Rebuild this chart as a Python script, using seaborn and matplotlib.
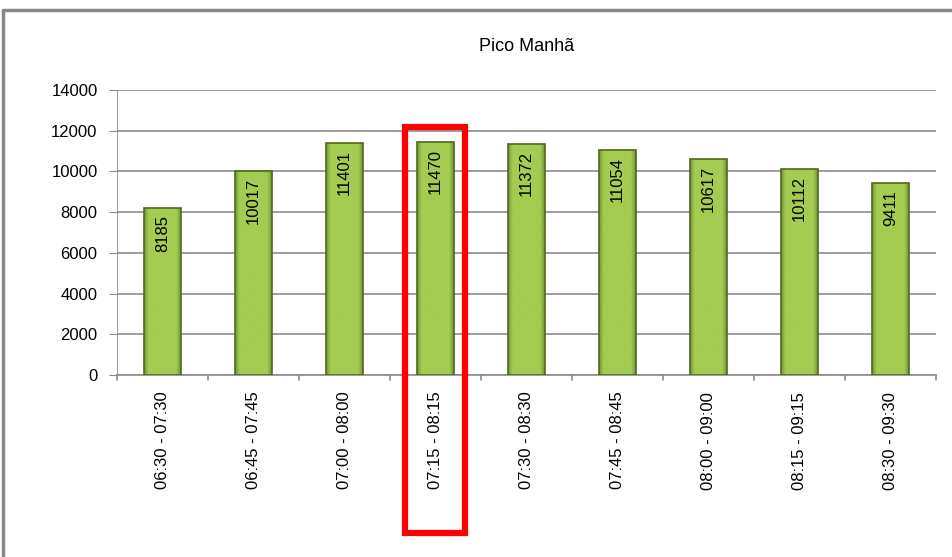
import matplotlib.pyplot as plt
import matplotlib.patches as mpatches
import matplotlib.lines as mlines
import pandas as pd
import seaborn as sns
import numpy as np

# data
periods = ['06:30 - 07:30', '06:45 - 07:45', '07:00 - 08:00', '07:15 - 08:15',
           '07:30 - 08:30', '07:45 - 08:45', '08:00 - 09:00', '08:15 - 09:15',
           '08:30 - 09:30']
volumes = [8185, 10017, 11401, 11470, 11372, 11054, 10617, 10112, 9411]
peak_period = '07:15 - 08:15'
title = 'Pico Manhã'

df = pd.DataFrame({'period': periods, 'volume': volumes})

sns.set_style('white')
plt.rcParams['font.family'] = ['Liberation Sans', 'DejaVu Sans']
plt.rcParams['text.color'] = 'black'
plt.rcParams['xtick.color'] = 'black'
plt.rcParams['ytick.color'] = 'black'

fig = plt.figure(figsize=(9.53, 5.57), dpi=100)
ax = fig.add_axes([0.1228, 0.3268, 0.982 - 0.1228, 0.8384 - 0.3268])

sns.barplot(data=df, x='period', y='volume', color='#9bc24a', width=0.4,
            edgecolor='#4e6a1c', linewidth=1.2, saturation=1, ax=ax, zorder=3)

# bevelled look: light middle, darker rim
n = 64
u = np.linspace(0, 1, n)
edge = np.minimum(u, 1 - u)
shade = 0.72 + 0.28 * np.clip(edge / 0.12, 0, 1)
base = np.array([0.64, 0.80, 0.32])
img = np.clip(base[None, None, :] * shade[None, :, None], 0, 1)
for p in ax.patches:
    x0, y0 = p.get_x(), p.get_y()
    w, h = p.get_width(), p.get_height()
    im = ax.imshow(img, extent=[x0, x0 + w, y0, y0 + h], aspect='auto', zorder=3.5,
                   interpolation='bilinear')
    im.set_clip_path(p)
    p.set_facecolor('none')
    p.set_zorder(4)

ax.set_xlim(-0.5, len(periods) - 0.5)
ax.set_ylim(0, 14000)
ax.set_yticks(range(0, 14001, 2000))
ax.yaxis.grid(True, color='#8c8c8c', linewidth=1.2, zorder=0)
ax.xaxis.grid(False)

for s in ['top', 'right', 'left']:
    ax.spines[s].set_visible(False)
ax.spines['bottom'].set_color('#8c8c8c')
ax.spines['bottom'].set_linewidth(1.2)
ax.axvline(-0.5, color='#8c8c8c', linewidth=1.2, zorder=2)

ax.set_xticks(range(len(periods)))
ax.set_xticklabels(periods, rotation=90, fontsize=12)
ax.tick_params(axis='x', length=0, pad=12)
ax.tick_params(axis='y', labelsize=12, length=6, color='#8c8c8c', left=True, pad=8)
for xb in np.arange(-0.5, len(periods), 1.0):
    ax.plot([xb, xb], [0, -230], color='#8c8c8c', linewidth=1.2, clip_on=False)

ax.set_xlabel('')
ax.set_ylabel('')

for i, v in enumerate(volumes):
    ax.text(i, v - 350, str(v), rotation=90, ha='center', va='top', fontsize=12,
            zorder=6)

ax.set_title(title, fontsize=13, pad=28)

# red highlight around the peak hour
pi = periods.index(peak_period)
rect = mpatches.Rectangle((pi - 0.33, -7760), 0.66, 12182 + 7760, fill=False,
                          edgecolor='#ff0000', linewidth=4.5, clip_on=False, zorder=7)
ax.add_patch(rect)

# outer frame of the chart (cut off at right and bottom)
fig.add_artist(mlines.Line2D([3 / 953, 3 / 953], [0, 1 - 10 / 557], color='#888888',
                             linewidth=2.5, transform=fig.transFigure))
fig.add_artist(mlines.Line2D([3 / 953, 1], [1 - 10 / 557, 1 - 10 / 557], color='#888888',
                             linewidth=2.5, transform=fig.transFigure))

fig.savefig('out.png', dpi=100)
